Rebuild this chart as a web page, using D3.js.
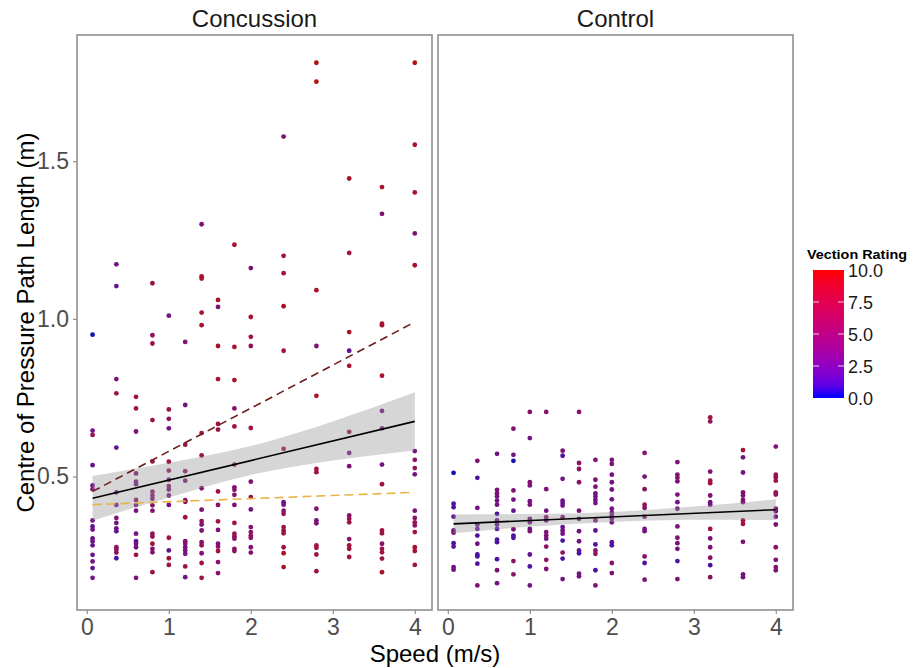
<!DOCTYPE html>
<html>
<head>
<meta charset="utf-8">
<script src="https://cdn.jsdelivr.net/npm/d3@7"></script>
<style>
  body { margin: 0; background: #fff; }
  text { font-family: "Liberation Sans", Arial, sans-serif; }
</style>
</head>
<body>
<svg id="chart"></svg>
<script>
// [speed, path length, vection rating]
const concussionPoints = [
  [0.07,0.95,0],[0.07,0.646,3],[0.07,0.632,6],[0.07,0.536,2],[0.07,0.472,3],[0.07,0.46,4],[0.07,0.361,3],[0.07,0.342,2],
  [0.07,0.332,3],[0.07,0.304,2],[0.07,0.295,3],[0.07,0.282,2],[0.07,0.252,2],[0.07,0.231,3],[0.07,0.21,2],[0.07,0.179,3],
  [0.36,1.173,3],[0.36,1.104,2],[0.36,0.809,4],[0.36,0.764,8],[0.36,0.592,2],[0.36,0.45,3],[0.36,0.41,3],[0.36,0.369,4],
  [0.36,0.353,3],[0.36,0.336,3],[0.36,0.327,2],[0.36,0.276,6],[0.36,0.268,5],[0.36,0.259,6],[0.36,0.241,1],
  [0.6,0.753,8],[0.6,0.716,8],[0.6,0.643,4],[0.6,0.51,4],[0.6,0.484,4],[0.6,0.476,3],[0.6,0.426,5],[0.6,0.41,4],
  [0.6,0.392,3],[0.6,0.319,3],[0.6,0.295,2],[0.6,0.287,3],[0.6,0.276,3],[0.6,0.252,7],[0.6,0.179,4],
  [0.8,1.113,7],[0.8,0.948,6],[0.8,0.922,7],[0.8,0.679,7],[0.8,0.548,7],[0.8,0.452,5],[0.8,0.44,5],[0.8,0.43,4],
  [0.8,0.409,5],[0.8,0.392,4],[0.8,0.319,7],[0.8,0.31,6],[0.8,0.287,8],[0.8,0.271,4],[0.8,0.26,4],[0.8,0.197,7],
  [1.0,1.01,3],[1.0,0.713,7],[1.0,0.683,6],[1.0,0.653,3],[1.0,0.547,8],[1.0,0.519,6],[1.0,0.49,4],[1.0,0.47,5],
  [1.0,0.459,4],[1.0,0.44,4],[1.0,0.41,3],[1.0,0.306,8],[1.0,0.266,2],[1.0,0.241,8],[1.0,0.22,7],
  [1.2,0.927,4],[1.2,0.727,3],[1.2,0.601,7],[1.2,0.517,5],[1.2,0.487,4],[1.2,0.425,6],[1.2,0.42,5],[1.2,0.371,8],
  [1.2,0.295,4],[1.2,0.287,5],[1.2,0.276,3],[1.2,0.266,4],[1.2,0.255,3],[1.2,0.215,7],[1.2,0.181,3],
  [1.4,1.30,4],[1.4,1.135,9],[1.4,1.128,9],[1.4,1.02,9],[1.4,0.98,9],[1.4,0.638,8],[1.4,0.567,7],[1.4,0.463,4],
  [1.4,0.395,4],[1.4,0.359,6],[1.4,0.348,4],[1.4,0.329,4],[1.4,0.292,5],[1.4,0.282,6],[1.4,0.257,4],[1.4,0.226,8],[1.4,0.179,7],
  [1.6,1.06,9],[1.6,1.038,4],[1.6,0.914,9],[1.6,0.809,9],[1.6,0.667,8],[1.6,0.649,7],[1.6,0.453,7],[1.6,0.41,5],
  [1.6,0.358,8],[1.6,0.331,4],[1.6,0.287,4],[1.6,0.278,5],[1.6,0.264,8],[1.6,0.229,5],[1.6,0.194,5],
  [1.8,1.235,9],[1.8,0.911,9],[1.8,0.806,9],[1.8,0.716,4],[1.8,0.659,8],[1.8,0.538,6],[1.8,0.466,4],[1.8,0.458,5],
  [1.8,0.442,4],[1.8,0.41,4],[1.8,0.353,8],[1.8,0.319,6],[1.8,0.31,7],[1.8,0.303,5],[1.8,0.271,6],[1.8,0.264,5],
  [2.0,1.161,4],[2.0,1.006,9],[2.0,0.943,8],[2.0,0.914,6],[2.0,0.654,8],[2.0,0.484,4],[2.0,0.435,7],[2.0,0.396,3],
  [2.0,0.34,4],[2.0,0.324,5],[2.0,0.313,6],[2.0,0.306,5],[2.0,0.276,4],[2.0,0.259,4],
  [2.4,1.578,4],[2.4,1.2,8],[2.4,1.145,8],[2.4,1.04,9],[2.4,0.899,8],[2.4,0.588,6],[2.4,0.419,3],[2.4,0.411,3],
  [2.4,0.392,5],[2.4,0.382,6],[2.4,0.34,7],[2.4,0.329,8],[2.4,0.32,7],[2.4,0.276,8],[2.4,0.257,9],[2.4,0.213,9],
  [2.8,1.812,10],[2.8,1.752,10],[2.8,1.091,9],[2.8,0.914,4],[2.8,0.756,9],[2.8,0.524,8],[2.8,0.514,7],[2.8,0.398,5],
  [2.8,0.361,3],[2.8,0.352,4],[2.8,0.282,8],[2.8,0.274,8],[2.8,0.253,7],[2.8,0.2,7],
  [3.2,1.445,9],[3.2,1.209,8],[3.2,0.958,9],[3.2,0.899,2],[3.2,0.851,9],[3.2,0.642,6],[3.2,0.575,3],[3.2,0.533,4],
  [3.2,0.377,5],[3.2,0.366,7],[3.2,0.355,7],[3.2,0.302,5],[3.2,0.282,8],[3.2,0.271,8],[3.2,0.245,8],
  [3.6,1.418,9],[3.6,1.333,4],[3.6,0.985,9],[3.6,0.98,9],[3.6,0.82,9],[3.6,0.708,3],[3.6,0.653,4],[3.6,0.538,3],
  [3.6,0.476,8],[3.6,0.329,8],[3.6,0.32,7],[3.6,0.287,5],[3.6,0.271,7],[3.6,0.26,8],[3.6,0.24,7],[3.6,0.197,9],
  [4.0,1.812,10],[4.0,1.552,9],[4.0,1.401,9],[4.0,1.271,4],[4.0,1.17,9],[4.0,0.581,3],[4.0,0.553,5],[4.0,0.527,6],
  [4.0,0.507,3],[4.0,0.392,4],[4.0,0.369,5],[4.0,0.355,7],[4.0,0.345,5],[4.0,0.324,8],[4.0,0.276,8],[4.0,0.264,9],[4.0,0.22,7]
];

const controlPoints = [
  [0.07,0.512,0],[0.07,0.414,1],[0.07,0.403,1],[0.07,0.373,2],[0.07,0.329,3],[0.07,0.322,4],[0.07,0.289,1],[0.07,0.278,2],
  [0.07,0.213,2],[0.07,0.205,3],
  [0.36,0.55,4],[0.36,0.496,1],[0.36,0.401,3],[0.36,0.348,2],[0.36,0.334,2],[0.36,0.313,1],[0.36,0.287,3],[0.36,0.253,1],
  [0.36,0.247,1],[0.36,0.224,1],[0.36,0.155,4],
  [0.6,0.572,3],[0.6,0.458,4],[0.6,0.447,4],[0.6,0.437,4],[0.6,0.424,3],[0.6,0.411,3],[0.6,0.382,1],[0.6,0.361,2],
  [0.6,0.348,2],[0.6,0.334,1],[0.6,0.3,1],[0.6,0.292,1],[0.6,0.238,1],[0.6,0.203,4],[0.6,0.162,3],
  [0.8,0.652,4],[0.8,0.569,3],[0.8,0.55,0],[0.8,0.456,4],[0.8,0.427,3],[0.8,0.392,2],[0.8,0.333,4],[0.8,0.313,1],
  [0.8,0.306,1],[0.8,0.232,5],[0.8,0.19,5],
  [1.0,0.705,5],[1.0,0.622,3],[1.0,0.482,4],[1.0,0.472,4],[1.0,0.422,3],[1.0,0.411,4],[1.0,0.366,3],[1.0,0.355,3],
  [1.0,0.334,3],[1.0,0.327,4],[1.0,0.253,2],[1.0,0.215,1],[1.0,0.155,3],
  [1.2,0.705,5],[1.2,0.46,4],[1.2,0.392,3],[1.2,0.371,4],[1.2,0.361,3],[1.2,0.324,4],[1.2,0.313,4],[1.2,0.303,3],
  [1.2,0.278,5],[1.2,0.236,5],[1.2,0.207,4],
  [1.4,0.582,4],[1.4,0.566,1],[1.4,0.493,3],[1.4,0.424,3],[1.4,0.416,2],[1.4,0.408,3],[1.4,0.371,4],[1.4,0.34,2],
  [1.4,0.329,3],[1.4,0.319,3],[1.4,0.297,1],[1.4,0.259,5],[1.4,0.24,1],[1.4,0.175,3],
  [1.6,0.705,5],[1.6,0.543,5],[1.6,0.524,5],[1.6,0.482,5],[1.6,0.392,4],[1.6,0.366,3],[1.6,0.327,3],[1.6,0.295,3],
  [1.6,0.266,2],[1.6,0.257,1],[1.6,0.192,3],[1.6,0.184,3],
  [1.8,0.553,4],[1.8,0.49,4],[1.8,0.468,4],[1.8,0.447,3],[1.8,0.437,3],[1.8,0.426,3],[1.8,0.416,3],[1.8,0.361,4],
  [1.8,0.329,2],[1.8,0.285,1],[1.8,0.266,5],[1.8,0.255,5],[1.8,0.203,1],[1.8,0.155,4],
  [2.0,0.553,4],[2.0,0.54,4],[2.0,0.506,3],[2.0,0.482,3],[2.0,0.459,3],[2.0,0.428,3],[2.0,0.398,3],[2.0,0.386,3],
  [2.0,0.377,3],[2.0,0.366,3],[2.0,0.355,3],[2.0,0.292,2],[2.0,0.282,1],[2.0,0.226,5],[2.0,0.194,4],
  [2.4,0.575,5],[2.4,0.5,4],[2.4,0.46,5],[2.4,0.411,6],[2.4,0.401,5],[2.4,0.373,4],[2.4,0.334,3],[2.4,0.327,3],
  [2.4,0.247,5],[2.4,0.226,1],[2.4,0.173,4],
  [2.8,0.546,4],[2.8,0.506,4],[2.8,0.496,5],[2.8,0.485,4],[2.8,0.443,4],[2.8,0.419,3],[2.8,0.398,3],[2.8,0.342,4],
  [2.8,0.306,4],[2.8,0.289,4],[2.8,0.271,3],[2.8,0.232,1],[2.8,0.175,4],
  [3.2,0.688,8],[3.2,0.675,6],[3.2,0.516,4],[3.2,0.487,8],[3.2,0.479,8],[3.2,0.44,4],[3.2,0.419,3],[3.2,0.411,3],
  [3.2,0.334,8],[3.2,0.304,4],[3.2,0.276,4],[3.2,0.243,5],[3.2,0.219,1],[3.2,0.181,5],
  [3.6,0.584,8],[3.6,0.561,3],[3.6,0.513,3],[3.6,0.45,4],[3.6,0.44,4],[3.6,0.426,4],[3.6,0.419,4],[3.6,0.361,8],
  [3.6,0.35,8],[3.6,0.293,4],[3.6,0.19,3],[3.6,0.181,3],
  [4.0,0.595,4],[4.0,0.506,7],[4.0,0.498,7],[4.0,0.487,7],[4.0,0.45,7],[4.0,0.443,6],[4.0,0.398,4],[4.0,0.39,4],
  [4.0,0.373,3],[4.0,0.348,4],[4.0,0.276,5],[4.0,0.236,4],[4.0,0.213,4],[4.0,0.203,4]
];

// fitted lines and confidence bands
const bandX = [0.07, 1, 2, 3, 4];
const concussionLo = [0.360, 0.434, 0.505, 0.551, 0.583];
const concussionHi = [0.502, 0.544, 0.597, 0.675, 0.767];
const controlLo = [0.320, 0.341, 0.356, 0.363, 0.362];
const controlHi = [0.380, 0.381, 0.388, 0.405, 0.428];
const concussionFit = [[0.07, 0.431], [4, 0.675]];
const controlFit = [[0.07, 0.350], [4, 0.395]];
const highVectionFit = [[0.07, 0.453], [4, 0.99]];
const lowVectionFit = [[0.07, 0.411], [4, 0.45]];

const xTicks = [0, 1, 2, 3, 4];
const yTicks = [0.5, 1.0, 1.5];
const legendTicks = [0, 2.5, 5, 7.5, 10];

let svg = d3.select("#chart")
  .attr("width", 913)
  .attr("height", 668)

let plotTop = 35, plotBottom = 610

let y = d3.scaleLinear().domain([0.077, 1.9]).range([plotBottom, plotTop])
let color = d3.scaleLinear().domain([0, 10]).range(["#0000ff", "#ff0000"]).interpolate(d3.interpolateLab)

// points look a little darker and duller than the bar
function pointColor(v) {
  return d3.interpolateRgb(d3.color(color(v)).darker(0.9), "#777")(0.15)
}

let panels = [
  {name: "Concussion", left: 77, right: 432, points: concussionPoints, lo: concussionLo, hi: concussionHi,
   lines: [{d: concussionFit, c: "#000", dash: null}, {d: highVectionFit, c: "#6e1c1c", dash: "8,5"}, {d: lowVectionFit, c: "#e8b445", dash: "9,5"}]},
  {name: "Control", left: 438, right: 793, points: controlPoints, lo: controlLo, hi: controlHi,
   lines: [{d: controlFit, c: "#000", dash: null}]}
]

panels.forEach(function(p) {
  let x = d3.scaleLinear().domain([-0.12, 4.21]).range([p.left, p.right])
  let g = svg.append("g")

  // points
  g.selectAll("circle")
    .data(p.points)
    .enter().append("circle")
    .attr("cx", d => x(d[0]))
    .attr("cy", d => y(d[1]))
    .attr("r", 2.4)
    .attr("fill", d => pointColor(d[2]))

  // confidence band
  let area = d3.area()
    .x((d, i) => x(bandX[i]))
    .y0((d, i) => y(p.lo[i]))
    .y1((d, i) => y(p.hi[i]))
    .curve(d3.curveMonotoneX)
  g.append("path")
    .attr("d", area(bandX))
    .attr("fill", "#999")
    .attr("fill-opacity", 0.4)

  let line = d3.line().x(d => x(d[0])).y(d => y(d[1]))
  p.lines.forEach(function(l) {
    g.append("path")
      .attr("d", line(l.d))
      .attr("fill", "none")
      .attr("stroke", l.c)
      .attr("stroke-width", 1.6)
      .attr("stroke-dasharray", l.dash)
  })

  // panel border
  g.append("rect")
    .attr("x", p.left).attr("y", plotTop)
    .attr("width", p.right - p.left).attr("height", plotBottom - plotTop)
    .attr("fill", "none").attr("stroke", "#8f8f8f").attr("stroke-width", 1.6)

  // x axis
  let xa = g.append("g").attr("transform", "translate(0," + plotBottom + ")")
    .call(d3.axisBottom(x).tickValues(xTicks).tickFormat(d3.format("d")).tickSize(4).tickPadding(5))
  xa.select(".domain").remove()
  xa.selectAll("line").attr("stroke", "#8f8f8f").attr("stroke-width", 1.2)
  xa.selectAll("text").attr("fill", "#4d4d4d").style("font-size", "23px")
    .style("font-family", '"Liberation Sans", Arial, sans-serif')

  // strip title
  g.append("text")
    .attr("x", (p.left + p.right) / 2).attr("y", 27)
    .attr("text-anchor", "middle")
    .style("font-size", "24px").attr("fill", "#1a1a1a")
    .text(p.name)
})

// y axis on left panel
let ya = svg.append("g").attr("transform", "translate(77,0)")
  .call(d3.axisLeft(y).tickValues(yTicks).tickFormat(d3.format(".1f")).tickSize(4).tickPadding(4))
ya.select(".domain").remove()
ya.selectAll("line").attr("stroke", "#8f8f8f").attr("stroke-width", 1.2)
ya.selectAll("text").attr("fill", "#4d4d4d").style("font-size", "23px")
  .style("font-family", '"Liberation Sans", Arial, sans-serif')

// axis titles
svg.append("text")
  .attr("x", 435).attr("y", 662)
  .attr("text-anchor", "middle")
  .style("font-size", "24px")
  .text("Speed (m/s)")

svg.append("text")
  .attr("transform", "translate(34," + ((plotTop + plotBottom) / 2) + ") rotate(-90)")
  .attr("text-anchor", "middle")
  .style("font-size", "24px")
  .text("Centre of Pressure Path Length (m)")

// colour bar legend
let ly = d3.scaleLinear().domain([0, 10]).range([398, 270])
let defs = svg.append("defs")
let grad = defs.append("linearGradient").attr("id", "vection")
  .attr("x1", 0).attr("y1", 1).attr("x2", 0).attr("y2", 0)
d3.range(0, 10.01, 1).forEach(function(v) {
  grad.append("stop").attr("offset", v / 10).attr("stop-color", color(v))
})
svg.append("rect")
  .attr("x", 813).attr("y", ly(10))
  .attr("width", 31).attr("height", ly(0) - ly(10))
  .attr("fill", "url(#vection)")

legendTicks.slice(1, 4).forEach(function(v) {
  svg.append("line").attr("x1", 813).attr("x2", 819).attr("y1", ly(v)).attr("y2", ly(v))
    .attr("stroke", "#fff").attr("stroke-opacity", 0.8)
  svg.append("line").attr("x1", 838).attr("x2", 844).attr("y1", ly(v)).attr("y2", ly(v))
    .attr("stroke", "#fff").attr("stroke-opacity", 0.8)
})

svg.selectAll(".legend-label")
  .data(legendTicks)
  .enter().append("text")
  .attr("class", "legend-label")
  .attr("x", 848)
  .attr("y", d => ly(d) + 7)
  .style("font-size", "18px")
  .attr("fill", "#1a1a1a")
  .text(d => d3.format(".1f")(d))

svg.append("text")
  .attr("x", 807).attr("y", 259)
  .style("font-size", "12.5px").style("font-weight", "bold")
  .attr("textLength", 100).attr("lengthAdjust", "spacingAndGlyphs")
  .text("Vection Rating")
</script>
</body>
</html>
